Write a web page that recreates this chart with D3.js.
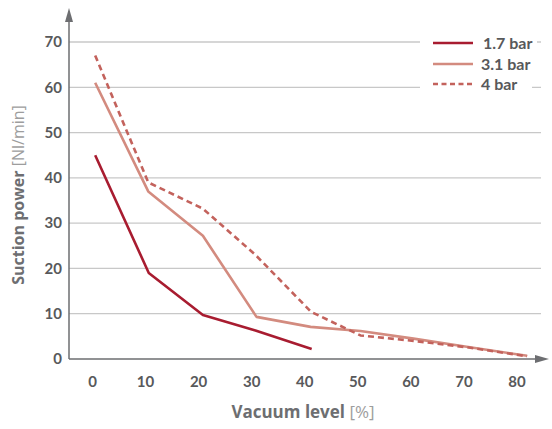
<!DOCTYPE html>
<html><head><meta charset="utf-8">
<script src="https://cdn.jsdelivr.net/npm/d3@7"></script>
<style>body{margin:0;background:#fff}svg{display:block}</style>
</head><body>
<svg id="c" width="552" height="429"></svg>
<script>
const seriesNames = ["1.7 bar", "3.1 bar", "4 bar"];
const x17 = [0.6, 10.7, 20.9, 30.8, 41.4];
const y17 = [45, 19, 9.7, 6.3, 2.2];
const x31 = [0.6, 10.6, 20.9, 31, 41.2, 50.6, 60.6, 70.6, 82];
const y31 = [61, 37, 27.2, 9.3, 7.1, 6.2, 4.5, 2.7, 0.7];
const x4 = [0.6, 10.6, 20.9, 30.8, 41.3, 50.6, 60.6, 70.6, 82];
const y4 = [67, 39, 33.2, 23, 10.4, 5.2, 4, 2.6, 0.6];
const xTicks = [0, 10, 20, 30, 40, 50, 60, 70, 80];
const yTicks = [0, 10, 20, 30, 40, 50, 60, 70];
const colors = ["#a81c30", "#d38b7f", "#c3625c"];

const svg = d3.select("#c");
const x = d3.scaleLinear().domain([0, 80]).range([92, 516.5]);
const y = d3.scaleLinear().domain([0, 70]).range([359, 42]);
const axisX0 = 69, gridRight = 541;

// gridlines
svg.append("g").selectAll("line").data(yTicks.filter(d => d > 0)).join("line")
  .attr("x1", axisX0).attr("x2", gridRight)
  .attr("y1", d => y(d)).attr("y2", d => y(d))
  .attr("stroke", "#c8c8c8").attr("stroke-width", 1.3);

// y tick labels via axis
const yAxis = svg.append("g").attr("transform", `translate(${axisX0},0)`)
  .call(d3.axisLeft(y).tickValues(yTicks).tickSize(0).tickPadding(7));
yAxis.select(".domain").remove();
yAxis.selectAll("text").attr("font-family", "Lato, 'Open Sans', sans-serif")
  .attr("font-weight", "bold").attr("font-size", 15).attr("fill", "#58595b");

const xAxis = svg.append("g").attr("transform", `translate(0,359)`)
  .call(d3.axisBottom(x).tickValues(xTicks).tickSize(0).tickPadding(17));
xAxis.select(".domain").remove();
xAxis.selectAll("text").attr("font-family", "Lato, 'Open Sans', sans-serif")
  .attr("font-weight", "bold").attr("font-size", 15).attr("fill", "#58595b");

// axis lines with arrows
const axColor = "#6d6e71";
svg.append("line").attr("x1", axisX0).attr("x2", axisX0).attr("y1", 359).attr("y2", 20)
  .attr("stroke", axColor).attr("stroke-width", 1.5);
svg.append("path").attr("d", `M${axisX0},8 L${axisX0-4},22 L${axisX0+4},22 Z`).attr("fill", axColor);
svg.append("line").attr("x1", axisX0).attr("x2", 543).attr("y1", 359).attr("y2", 359)
  .attr("stroke", axColor).attr("stroke-width", 1.5);
svg.append("path").attr("d", `M549,359 L535,355 L535,363 Z`).attr("fill", axColor);

// lines
const line = d3.line().x(d => x(d[0])).y(d => y(d[1]));
const data = [d3.zip(x17, y17), d3.zip(x31, y31), d3.zip(x4, y4)];
const dashes = [null, null, "6,4"];
data.forEach((pts, i) => {
  svg.append("path").datum(pts).attr("d", line)
    .attr("fill", "none").attr("stroke", colors[i]).attr("stroke-width", 2.6)
    .attr("stroke-dasharray", dashes[i]).attr("stroke-linejoin", "round");
});

// legend
svg.append("rect").attr("x", 420).attr("y", 34).attr("width", 112).attr("height", 60).attr("fill", "#fff");
svg.append("rect").attr("x", 420).attr("y", 34).attr("width", 117).attr("height", 14).attr("fill", "#fff");
const legY = [43, 64, 84];
const legTX = [483, 481, 481];
seriesNames.forEach((n, i) => {
  svg.append("line").attr("x1", 433).attr("x2", 473).attr("y1", legY[i]).attr("y2", legY[i])
    .attr("stroke", colors[i]).attr("stroke-width", 2.6).attr("stroke-dasharray", dashes[i] ? "5,3.5" : null);
  svg.append("text").attr("x", legTX[i]).attr("y", legY[i]).attr("dy", "0.35em")
    .attr("font-family", "Lato, 'Open Sans', sans-serif").attr("font-weight", "bold")
    .attr("font-size", 16).attr("fill", "#58595b").text(n);
});

// axis titles
const yt = svg.append("text").attr("transform", "translate(24,195) rotate(-90)")
  .attr("text-anchor", "middle").attr("font-family", "'Open Sans', Lato, sans-serif").attr("font-size", 16);
yt.append("tspan").attr("font-weight", "bold").attr("fill", "#6d6e71").text("Suction power ");
yt.append("tspan").attr("fill", "#9d9d9d").text("[Nl/min]");

const xt = svg.append("text").attr("x", 303).attr("y", 418)
  .attr("text-anchor", "middle").attr("font-family", "'Open Sans', Lato, sans-serif").attr("font-size", 17);
xt.append("tspan").attr("font-weight", "bold").attr("fill", "#6d6e71").text("Vacuum level ");
xt.append("tspan").attr("fill", "#9d9d9d").text("[%]");
</script>
</body></html>
